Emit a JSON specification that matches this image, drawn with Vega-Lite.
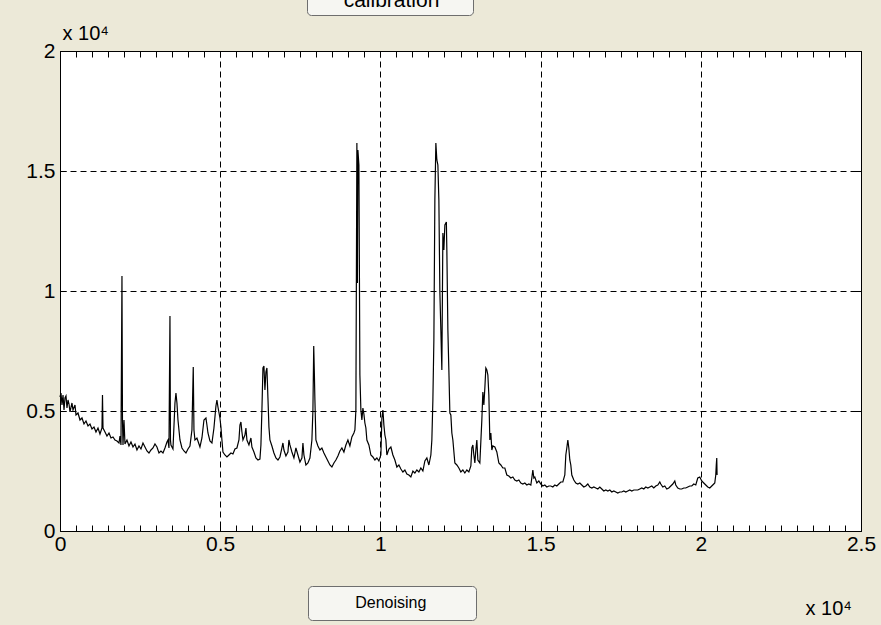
{
  "$schema": "https://vega.github.io/schema/vega-lite/v6.json",
  "width": 801,
  "height": 480,
  "autosize": "none",
  "padding": {"left": 60, "top": 51, "right": 20, "bottom": 94},
  "background": "#ECE9D8",
  "view": {"fill": "white", "stroke": "black", "strokeWidth": 1},
  "config": {
    "font": "Liberation Sans",
    "axis": {"labelFont": "Liberation Sans", "labelFontSize": 21, "labelColor": "black", "titleFont": "Liberation Sans", "titleFontSize": 20, "titleFontWeight": "normal", "titleColor": "black", "domain": false, "tickColor": "black"}
  },
  "data": {"values": [
    {"x":0,"y":5584},{"x":31,"y":5750},{"x":62,"y":5250},{"x":94,"y":5667},{"x":125,"y":5042},{"x":156,"y":5542},{"x":187,"y":5625},{"x":218,"y":5125},{"x":250,"y":5459},{"x":281,"y":5292},{"x":312,"y":4959},{"x":374,"y":5334},{"x":406,"y":5042},{"x":468,"y":5250},{"x":499,"y":4834},{"x":562,"y":4917},{"x":624,"y":4625},{"x":686,"y":4709},{"x":749,"y":4459},{"x":811,"y":4584},{"x":874,"y":4375},{"x":936,"y":4459},{"x":998,"y":4250},{"x":1061,"y":4334},{"x":1123,"y":4125},{"x":1186,"y":4292},{"x":1248,"y":4042},{"x":1310,"y":4292},{"x":1326,"y":5667},{"x":1342,"y":4292},{"x":1404,"y":4125},{"x":1466,"y":3959},{"x":1529,"y":4084},{"x":1591,"y":3875},{"x":1654,"y":3917},{"x":1716,"y":3792},{"x":1778,"y":3750},{"x":1841,"y":3667},{"x":1872,"y":3959},{"x":1903,"y":3584},{"x":1934,"y":10626},{"x":1950,"y":4625},{"x":1966,"y":3584},{"x":1997,"y":4625},{"x":2028,"y":3625},{"x":2090,"y":3792},{"x":2153,"y":3542},{"x":2215,"y":3709},{"x":2278,"y":3500},{"x":2340,"y":3625},{"x":2402,"y":3375},{"x":2465,"y":3542},{"x":2527,"y":3417},{"x":2590,"y":3667},{"x":2652,"y":3500},{"x":2714,"y":3334},{"x":2777,"y":3250},{"x":2839,"y":3375},{"x":2902,"y":3459},{"x":2964,"y":3625},{"x":3026,"y":3500},{"x":3089,"y":3250},{"x":3151,"y":3334},{"x":3214,"y":3250},{"x":3276,"y":3459},{"x":3338,"y":3709},{"x":3370,"y":3792},{"x":3401,"y":3459},{"x":3432,"y":8959},{"x":3448,"y":3792},{"x":3463,"y":3584},{"x":3526,"y":3417},{"x":3588,"y":5334},{"x":3619,"y":5750},{"x":3650,"y":5334},{"x":3682,"y":4625},{"x":3744,"y":3792},{"x":3806,"y":3459},{"x":3869,"y":3334},{"x":3931,"y":3250},{"x":3994,"y":3417},{"x":4056,"y":3542},{"x":4118,"y":4209},{"x":4159,"y":6834},{"x":4181,"y":4209},{"x":4212,"y":3792},{"x":4274,"y":3875},{"x":4337,"y":3625},{"x":4368,"y":3500},{"x":4430,"y":3875},{"x":4493,"y":4625},{"x":4555,"y":4709},{"x":4586,"y":4417},{"x":4618,"y":4084},{"x":4680,"y":3750},{"x":4742,"y":3667},{"x":4805,"y":4292},{"x":4867,"y":5209},{"x":4898,"y":5459},{"x":4930,"y":5167},{"x":4992,"y":4709},{"x":5023,"y":4334},{"x":5054,"y":3792},{"x":5086,"y":3292},{"x":5148,"y":3167},{"x":5210,"y":3084},{"x":5273,"y":3167},{"x":5335,"y":3250},{"x":5398,"y":3209},{"x":5460,"y":3417},{"x":5522,"y":3459},{"x":5585,"y":3792},{"x":5616,"y":4417},{"x":5647,"y":4542},{"x":5678,"y":4125},{"x":5710,"y":3792},{"x":5772,"y":4000},{"x":5803,"y":4292},{"x":5834,"y":3792},{"x":5897,"y":3584},{"x":5959,"y":3875},{"x":5990,"y":3500},{"x":6053,"y":3292},{"x":6115,"y":3042},{"x":6178,"y":2959},{"x":6240,"y":3000},{"x":6271,"y":3584},{"x":6302,"y":5042},{"x":6334,"y":6792},{"x":6365,"y":6876},{"x":6396,"y":5875},{"x":6427,"y":6626},{"x":6458,"y":6792},{"x":6490,"y":5542},{"x":6521,"y":4334},{"x":6552,"y":3792},{"x":6614,"y":3542},{"x":6677,"y":3250},{"x":6739,"y":3042},{"x":6802,"y":2959},{"x":6864,"y":3084},{"x":6926,"y":3459},{"x":6958,"y":3667},{"x":6989,"y":3375},{"x":7051,"y":3125},{"x":7114,"y":3292},{"x":7145,"y":3792},{"x":7176,"y":3584},{"x":7238,"y":3292},{"x":7301,"y":3042},{"x":7363,"y":3459},{"x":7426,"y":3167},{"x":7488,"y":2875},{"x":7550,"y":3042},{"x":7582,"y":3667},{"x":7613,"y":3167},{"x":7675,"y":2750},{"x":7738,"y":2834},{"x":7800,"y":3042},{"x":7862,"y":3792},{"x":7894,"y":5042},{"x":7919,"y":7709},{"x":7940,"y":6501},{"x":7956,"y":5459},{"x":7987,"y":3792},{"x":8050,"y":3542},{"x":8112,"y":3375},{"x":8174,"y":3459},{"x":8237,"y":3250},{"x":8299,"y":3084},{"x":8362,"y":2917},{"x":8424,"y":2750},{"x":8486,"y":2667},{"x":8549,"y":2834},{"x":8611,"y":2959},{"x":8674,"y":3125},{"x":8736,"y":3334},{"x":8798,"y":3459},{"x":8861,"y":3292},{"x":8923,"y":3584},{"x":8986,"y":3792},{"x":9048,"y":3542},{"x":9110,"y":3917},{"x":9173,"y":4084},{"x":9204,"y":4209},{"x":9235,"y":5042},{"x":9266,"y":16168},{"x":9282,"y":10334},{"x":9298,"y":15876},{"x":9329,"y":15251},{"x":9360,"y":6501},{"x":9391,"y":5042},{"x":9422,"y":4625},{"x":9454,"y":5125},{"x":9485,"y":4875},{"x":9516,"y":4500},{"x":9547,"y":4292},{"x":9578,"y":3792},{"x":9641,"y":3584},{"x":9703,"y":3167},{"x":9766,"y":3084},{"x":9828,"y":2959},{"x":9890,"y":3042},{"x":9953,"y":2917},{"x":10015,"y":3167},{"x":10046,"y":4709},{"x":10078,"y":5042},{"x":10109,"y":4417},{"x":10140,"y":4000},{"x":10171,"y":3792},{"x":10202,"y":3167},{"x":10265,"y":3417},{"x":10327,"y":3500},{"x":10390,"y":3167},{"x":10452,"y":2959},{"x":10514,"y":2667},{"x":10577,"y":2750},{"x":10639,"y":2584},{"x":10702,"y":2459},{"x":10764,"y":2542},{"x":10826,"y":2375},{"x":10889,"y":2334},{"x":10951,"y":2250},{"x":11014,"y":2500},{"x":11076,"y":2417},{"x":11138,"y":2542},{"x":11201,"y":2459},{"x":11263,"y":2625},{"x":11326,"y":2500},{"x":11388,"y":2917},{"x":11450,"y":3042},{"x":11513,"y":2750},{"x":11575,"y":3167},{"x":11606,"y":3792},{"x":11638,"y":5459},{"x":11669,"y":7959},{"x":11700,"y":13793},{"x":11731,"y":16168},{"x":11762,"y":15460},{"x":11794,"y":15251},{"x":11825,"y":13793},{"x":11856,"y":9959},{"x":11887,"y":8376},{"x":11918,"y":6709},{"x":11950,"y":12418},{"x":11981,"y":11709},{"x":12012,"y":12751},{"x":12059,"y":12876},{"x":12074,"y":11709},{"x":12106,"y":8376},{"x":12137,"y":6709},{"x":12168,"y":4917},{"x":12199,"y":4834},{"x":12230,"y":4084},{"x":12262,"y":3792},{"x":12324,"y":2834},{"x":12386,"y":2750},{"x":12449,"y":2625},{"x":12511,"y":2459},{"x":12574,"y":2542},{"x":12636,"y":2417},{"x":12698,"y":2542},{"x":12761,"y":2459},{"x":12823,"y":2709},{"x":12854,"y":3459},{"x":12886,"y":3584},{"x":12917,"y":3167},{"x":12948,"y":2834},{"x":12979,"y":3375},{"x":13010,"y":3792},{"x":13042,"y":2959},{"x":13104,"y":2834},{"x":13166,"y":4625},{"x":13198,"y":5792},{"x":13229,"y":5250},{"x":13260,"y":5959},{"x":13291,"y":6792},{"x":13322,"y":6709},{"x":13354,"y":6501},{"x":13385,"y":5667},{"x":13416,"y":3792},{"x":13447,"y":4084},{"x":13478,"y":3375},{"x":13510,"y":3542},{"x":13572,"y":3500},{"x":13634,"y":3292},{"x":13697,"y":2834},{"x":13759,"y":2750},{"x":13822,"y":2625},{"x":13884,"y":2625},{"x":13946,"y":2334},{"x":14009,"y":2292},{"x":14071,"y":2209},{"x":14134,"y":2250},{"x":14196,"y":2125},{"x":14258,"y":2084},{"x":14321,"y":2125},{"x":14383,"y":2000},{"x":14446,"y":1958},{"x":14508,"y":2000},{"x":14570,"y":1917},{"x":14633,"y":1958},{"x":14695,"y":1917},{"x":14726,"y":2209},{"x":14758,"y":2542},{"x":14789,"y":2209},{"x":14820,"y":2250},{"x":14882,"y":2000},{"x":14945,"y":2084},{"x":15007,"y":1958},{"x":15070,"y":1875},{"x":15132,"y":1917},{"x":15194,"y":1833},{"x":15257,"y":1875},{"x":15319,"y":1875},{"x":15382,"y":1833},{"x":15444,"y":1917},{"x":15506,"y":1875},{"x":15569,"y":1958},{"x":15631,"y":2042},{"x":15694,"y":2042},{"x":15756,"y":2334},{"x":15787,"y":3167},{"x":15818,"y":3459},{"x":15850,"y":3792},{"x":15881,"y":3459},{"x":15912,"y":2959},{"x":15943,"y":2750},{"x":15974,"y":2334},{"x":16037,"y":2125},{"x":16099,"y":2000},{"x":16162,"y":1958},{"x":16224,"y":2000},{"x":16286,"y":1917},{"x":16349,"y":1833},{"x":16411,"y":1875},{"x":16474,"y":1958},{"x":16536,"y":1833},{"x":16598,"y":1792},{"x":16661,"y":1833},{"x":16723,"y":1792},{"x":16786,"y":1750},{"x":16848,"y":1833},{"x":16910,"y":1750},{"x":16973,"y":1667},{"x":17035,"y":1708},{"x":17098,"y":1667},{"x":17160,"y":1708},{"x":17222,"y":1625},{"x":17285,"y":1667},{"x":17347,"y":1625},{"x":17410,"y":1583},{"x":17472,"y":1625},{"x":17534,"y":1625},{"x":17597,"y":1667},{"x":17659,"y":1625},{"x":17722,"y":1667},{"x":17784,"y":1708},{"x":17846,"y":1667},{"x":17909,"y":1708},{"x":17971,"y":1708},{"x":18034,"y":1708},{"x":18096,"y":1750},{"x":18158,"y":1792},{"x":18221,"y":1750},{"x":18283,"y":1833},{"x":18346,"y":1792},{"x":18408,"y":1833},{"x":18470,"y":1875},{"x":18533,"y":1792},{"x":18595,"y":1875},{"x":18658,"y":1917},{"x":18720,"y":2042},{"x":18751,"y":1958},{"x":18814,"y":1833},{"x":18876,"y":1875},{"x":18938,"y":1750},{"x":19001,"y":1792},{"x":19063,"y":1875},{"x":19126,"y":1958},{"x":19188,"y":2084},{"x":19219,"y":1917},{"x":19282,"y":1792},{"x":19344,"y":1750},{"x":19406,"y":1750},{"x":19469,"y":1792},{"x":19531,"y":1792},{"x":19594,"y":1833},{"x":19656,"y":1875},{"x":19718,"y":1875},{"x":19781,"y":1958},{"x":19843,"y":1917},{"x":19906,"y":2209},{"x":19968,"y":2250},{"x":19999,"y":2167},{"x":20030,"y":2084},{"x":20093,"y":2000},{"x":20155,"y":1917},{"x":20218,"y":1833},{"x":20280,"y":1792},{"x":20342,"y":1875},{"x":20405,"y":1958},{"x":20436,"y":2000},{"x":20467,"y":2334},{"x":20483,"y":2750},{"x":20498,"y":3042},{"x":20508,"y":2334}
  ]},
  "layer": [
    {
      "mark": {"type": "line", "strokeWidth": 1.2},
      "encoding": {
        "x": {"field": "x", "type": "quantitative", "scale": {"domain": [0, 25000], "nice": false, "zero": false},
          "axis": {"orient": "bottom",
            "values": [0,500,1000,1500,2000,2500,3000,3500,4000,4500,5000,5500,6000,6500,7000,7500,8000,8500,9000,9500,10000,10500,11000,11500,12000,12500,13000,13500,14000,14500,15000,15500,16000,16500,17000,17500,18000,18500,19000,19500,20000,20500,21000,21500,22000,22500,23000,23500,24000,24500,25000],
            "grid": true, "gridColor": "black", "gridDash": [6, 4], "gridWidth": 1,
            "gridOpacity": {"condition": {"test": "datum.value % 5000 === 0", "value": 1}, "value": 0},
            "tickSize": -6, "labelPadding": 8, "labelOverlap": false, "labelFlush": false,
            "labelExpr": "datum.value % 5000 === 0 ? '' + (datum.value / 10000) : ''",
            "title": "x 10⁴", "titleX": 745, "titleY": 83, "titleAlign": "left", "titleBaseline": "alphabetic"}},
        "y": {"field": "y", "type": "quantitative", "scale": {"domain": [0, 20000], "nice": false, "zero": false},
          "axis": {"orient": "left", "values": [0, 5000, 10000, 15000, 20000],
            "grid": true, "gridColor": "black", "gridDash": [6, 4], "gridWidth": 1,
            "tickSize": -6, "labelPadding": 11,
            "labelExpr": "'' + (datum.value / 10000)",
            "title": "x 10⁴", "titleAngle": 0, "titleX": 2, "titleY": -12, "titleAlign": "left", "titleBaseline": "alphabetic"}},
        "color": {"datum": "Denoising", "scale": {"range": ["#000000"]},
          "legend": {"orient": "none", "legendX": 248, "legendY": 535, "title": null,
            "fillColor": "#F6F6F2", "strokeColor": "#6E6E6E", "cornerRadius": 4, "padding": 9,
            "symbolSize": 0, "symbolOpacity": 0, "symbolStrokeWidth": 0, "labelOffset": 0,
            "labelFont": "Liberation Sans", "labelFontSize": 16, "labelColor": "black", "labelLimit": 400,
            "labelExpr": "'\u200b\u00a0\u00a0\u00a0\u00a0\u00a0' + datum.label + '\u00a0\u00a0\u00a0\u00a0\u00a0\u00a0\u00a0\u00a0\u00a0\u200b'"}}
      }
    },
    {
      "mark": {"type": "line", "opacity": 0},
      "encoding": {
        "x": {"field": "x", "type": "quantitative",
          "axis": {"orient": "top",
            "values": [0,500,1000,1500,2000,2500,3000,3500,4000,4500,5000,5500,6000,6500,7000,7500,8000,8500,9000,9500,10000,10500,11000,11500,12000,12500,13000,13500,14000,14500,15000,15500,16000,16500,17000,17500,18000,18500,19000,19500,20000,20500,21000,21500,22000,22500,23000,23500,24000,24500,25000],
            "grid": false, "labels": false, "tickSize": -6, "title": null}},
        "y": {"field": "y", "type": "quantitative",
          "axis": {"orient": "right", "values": [0, 5000, 10000, 15000, 20000], "grid": false, "labels": false, "tickSize": -6, "title": null}},
        "strokeDash": {"datum": "calibration", "scale": {"range": [[1, 0]]},
          "legend": {"orient": "none", "legendX": 247, "legendY": -65, "title": null,
            "fillColor": "#F6F6F2", "strokeColor": "#6E6E6E", "cornerRadius": 4, "padding": 4,
            "symbolSize": 0, "symbolOpacity": 0, "symbolStrokeWidth": 0, "labelOffset": 0,
            "labelFont": "Liberation Sans", "labelFontSize": 21, "labelColor": "black", "labelLimit": 400,
            "labelExpr": "'\u200b\u00a0\u00a0' + datum.label + '\u00a0\u00a0\u00a0\u00a0\u00a0\u200b'"}}
      }
    }
  ],
  "resolve": {"axis": {"x": "independent", "y": "independent"}}
}
